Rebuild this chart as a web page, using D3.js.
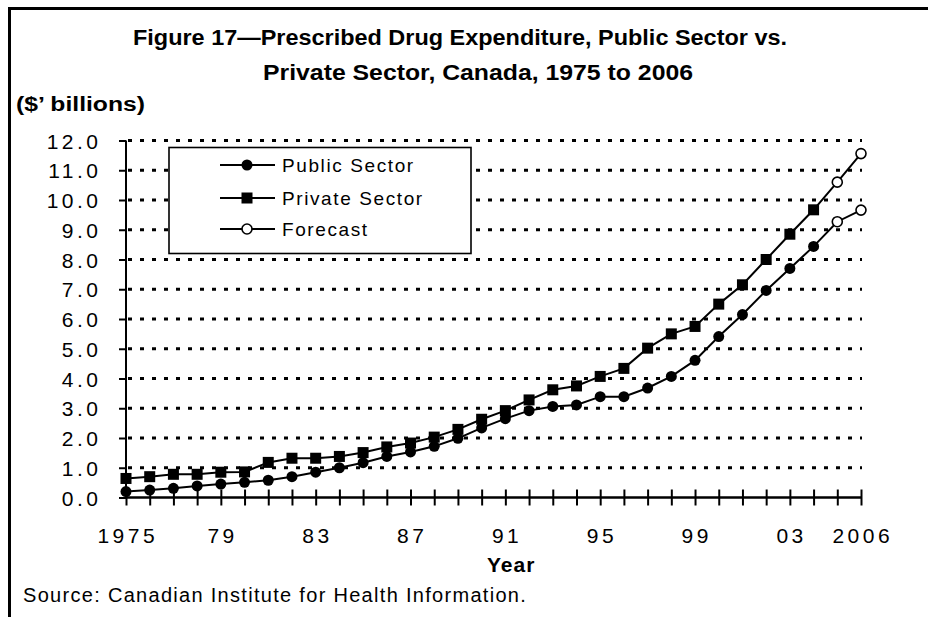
<!DOCTYPE html>
<html>
<head>
<meta charset="utf-8">
<script src="https://cdn.jsdelivr.net/npm/d3@7"></script>
<style>
  html, body { margin: 0; padding: 0; background: #fff; }
  svg { display: block; }
</style>
</head>
<body>
<svg id="chart" width="928" height="617"></svg>
<script>
// ---------------- DATA ----------------
const years = [1975,1976,1977,1978,1979,1980,1981,1982,1983,1984,1985,1986,1987,1988,1989,1990,
               1991,1992,1993,1994,1995,1996,1997,1998,1999,2000,2001,2002,2003,2004,2005,2006];
const publicSector = [0.20,0.25,0.31,0.39,0.45,0.51,0.58,0.70,0.85,1.00,1.17,1.38,1.53,1.72,1.99,2.34,
                      2.65,2.92,3.06,3.11,3.39,3.39,3.68,4.07,4.61,5.41,6.15,6.96,7.70,8.44,9.27,9.66];
const privateSector = [0.64,0.70,0.78,0.78,0.85,0.86,1.18,1.32,1.32,1.38,1.51,1.70,1.83,2.03,2.29,2.63,
                       2.92,3.28,3.62,3.75,4.07,4.34,5.02,5.50,5.75,6.50,7.15,8.00,8.85,9.67,10.60,11.56];
const forecastYears = [2005, 2006];
const xTickYears = [1975,1979,1983,1987,1991,1995,1999,2003,2006];
const xTickLabels = ["1975","79","83","87","91","95","99","03","2006"];
const yTickValues = [0,1,2,3,4,5,6,7,8,9,10,11,12];
const yTickLabels = ["0.0","1.0","2.0","3.0","4.0","5.0","6.0","7.0","8.0","9.0","10.0","11.0","12.0"];
const legendLabels = ["Public Sector","Private Sector","Forecast"];
const titleLines = ["Figure 17\u2014Prescribed Drug Expenditure, Public Sector vs.",
                    "Private Sector, Canada, 1975 to 2006"];
const unitLabel = "($\u2019 billions)";
const xAxisTitle = "Year";
const sourceText = "Source: Canadian Institute for Health Information.";

(function () {
// ---------------- LAYOUT ----------------
const svg = d3.select("#chart");
const pL = 126, pR = 861, pT = 140.5, pB = 497.5;
const x = d3.scaleLinear().domain([1975, 2006]).range([pL, pR]);
const y = d3.scaleLinear().domain([0, 12]).range([pB, pT]);
const FONT = "'Liberation Sans', Arial, Helvetica, sans-serif";

// frame
svg.append("line").attr("x1", 8).attr("x2", 928).attr("y1", 8.5).attr("y2", 8.5)
  .attr("stroke", "#000").attr("stroke-width", 3);
svg.append("line").attr("x1", 9.5).attr("x2", 9.5).attr("y1", 7).attr("y2", 617)
  .attr("stroke", "#000").attr("stroke-width", 3);

// titles
const tl = [{t: titleLines[0], x: 133, y: 45, len: 654},
            {t: titleLines[1], x: 263, y: 80, len: 430}];
tl.forEach(d => {
  svg.append("text").attr("x", d.x).attr("y", d.y)
    .attr("font-family", FONT).attr("font-weight", "bold").attr("font-size", 22)
    .attr("textLength", d.len).attr("lengthAdjust", "spacingAndGlyphs")
    .text(d.t);
});
svg.append("text").attr("x", 16).attr("y", 111)
  .attr("font-family", FONT).attr("font-weight", "bold").attr("font-size", 20)
  .attr("textLength", 129).attr("lengthAdjust", "spacingAndGlyphs")
  .text(unitLabel);

// gridlines
svg.append("g").selectAll("line").data(yTickValues.filter(v => v > 0)).join("line")
  .attr("x1", pL + 2).attr("x2", pR + 1)
  .attr("y1", d => y(d)).attr("y2", d => y(d))
  .attr("stroke", "#000").attr("stroke-width", 3)
  .attr("stroke-dasharray", "4,8");

// y axis
const yAxis = d3.axisLeft(y).tickValues(yTickValues)
  .tickFormat((d, i) => yTickLabels[i]).tickSize(0).tickPadding(0);
const gy = svg.append("g").attr("transform", `translate(${pL},0)`).call(yAxis);
gy.select(".domain").remove();
gy.selectAll(".tick text").remove();
gy.selectAll(".tick").append("line").attr("x1", -7).attr("x2", 0)
  .attr("stroke", "#000").attr("stroke-width", 2);
gy.selectAll(".tick").append("text")
  .attr("x", -28 + 3.5).attr("dy", "0.36em")
  .attr("text-anchor", "end")
  .attr("font-family", FONT).attr("font-size", 21).attr("letter-spacing", 3.5)
  .attr("fill", "#000")
  .text((d, i) => yTickLabels[i]);
svg.append("line").attr("x1", pL).attr("x2", pL).attr("y1", pT).attr("y2", pB)
  .attr("stroke", "#000").attr("stroke-width", 2);

// x axis
const xAxis = d3.axisBottom(x).tickValues(years).tickSize(0).tickFormat("");
const gx = svg.append("g").attr("transform", `translate(0,${pB})`).call(xAxis);
gx.select(".domain").remove();
gx.selectAll(".tick").append("line").attr("y1", -8).attr("y2", 8)
  .attr("stroke", "#000").attr("stroke-width", 2);
svg.append("line").attr("x1", pL).attr("x2", pR).attr("y1", pB).attr("y2", pB)
  .attr("stroke", "#000").attr("stroke-width", 2.5);
svg.append("g").selectAll("text").data(xTickYears).join("text")
  .attr("x", d => x(d) + 1.75).attr("y", 543)
  .attr("text-anchor", "middle")
  .attr("font-family", FONT).attr("font-size", 21).attr("letter-spacing", 3.5)
  .text((d, i) => xTickLabels[i]);

svg.append("text").attr("x", 487).attr("y", 572)
  .attr("font-family", FONT).attr("font-weight", "bold").attr("font-size", 21)
  .attr("letter-spacing", 1)
  .text(xAxisTitle);

svg.append("text").attr("x", 23).attr("y", 602)
  .attr("font-family", FONT).attr("font-size", 20).attr("letter-spacing", 1.3)
  .text(sourceText);

// series
const pub = years.map((yr, i) => ({yr, v: publicSector[i]}));
const pri = years.map((yr, i) => ({yr, v: privateSector[i]}));
const line = d3.line().x(d => x(d.yr)).y(d => y(d.v));
[pub, pri].forEach(s => {
  svg.append("path").datum(s).attr("d", line)
    .attr("fill", "none").attr("stroke", "#000").attr("stroke-width", 2);
});
const isF = d => forecastYears.includes(d.yr);
svg.append("g").selectAll("rect").data(pri.filter(d => !isF(d))).join("rect")
  .attr("x", d => x(d.yr) - 5.5).attr("y", d => y(d.v) - 5.5)
  .attr("width", 11).attr("height", 11).attr("fill", "#000");
svg.append("g").selectAll("circle").data(pub.filter(d => !isF(d))).join("circle")
  .attr("cx", d => x(d.yr)).attr("cy", d => y(d.v)).attr("r", 5.5).attr("fill", "#000");
svg.append("g").selectAll("circle").data(pub.concat(pri).filter(isF)).join("circle")
  .attr("cx", d => x(d.yr)).attr("cy", d => y(d.v)).attr("r", 5)
  .attr("fill", "#fff").attr("stroke", "#000").attr("stroke-width", 1.6);

// legend
const lg = svg.append("g");
lg.append("rect").attr("x", 169).attr("y", 147.5).attr("width", 302).attr("height", 106)
  .attr("fill", "#fff").attr("stroke", "#000").attr("stroke-width", 1.6);
const rowsY = [165, 198, 229];
legendLabels.forEach((lab, i) => {
  const cy = rowsY[i];
  lg.append("line").attr("x1", 220).attr("x2", 275).attr("y1", cy).attr("y2", cy)
    .attr("stroke", "#000").attr("stroke-width", 2);
  if (i === 0) lg.append("circle").attr("cx", 247).attr("cy", cy).attr("r", 5.5).attr("fill", "#000");
  if (i === 1) lg.append("rect").attr("x", 241.5).attr("y", cy - 5.5).attr("width", 11).attr("height", 11).attr("fill", "#000");
  if (i === 2) lg.append("circle").attr("cx", 247).attr("cy", cy).attr("r", 5)
    .attr("fill", "#fff").attr("stroke", "#000").attr("stroke-width", 1.6);
  lg.append("text").attr("x", 282).attr("y", cy + 6.5)
    .attr("font-family", FONT).attr("font-size", 19).attr("letter-spacing", 1.6)
    .text(lab);
});
})();
</script>
</body>
</html>
